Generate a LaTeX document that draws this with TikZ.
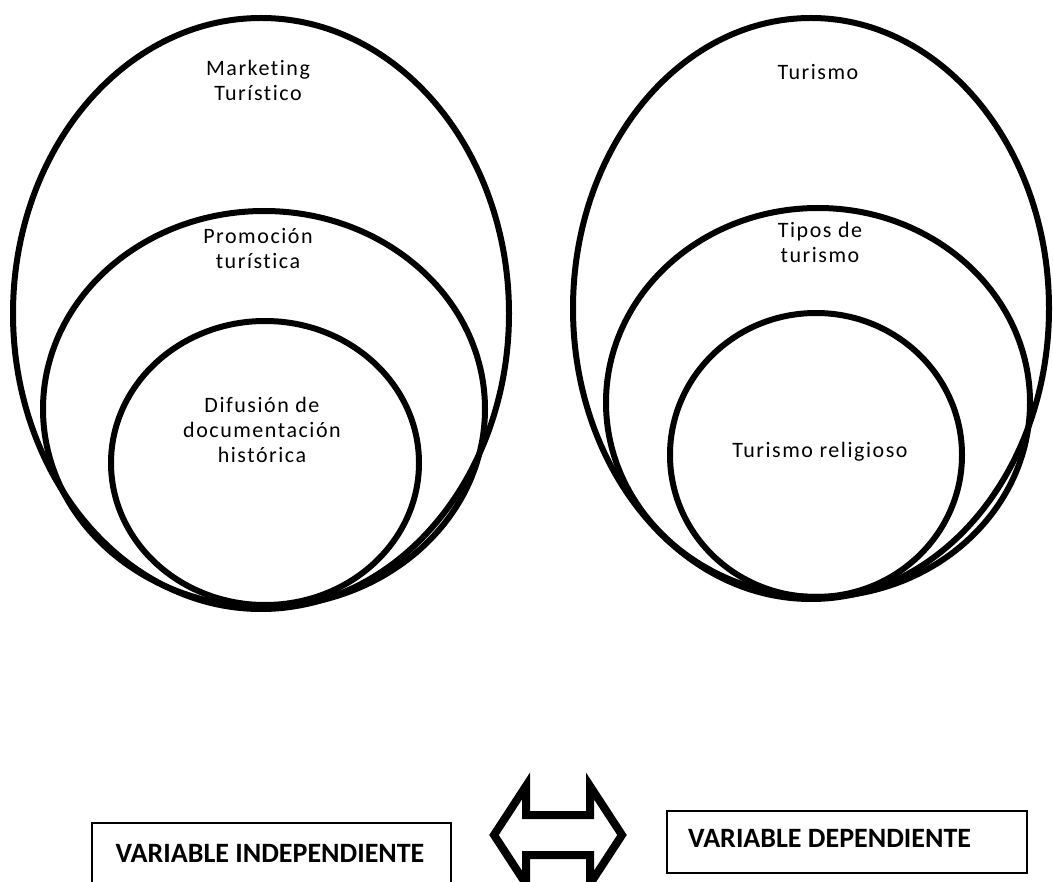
\documentclass[tikz,border=0pt]{standalone}
\usepackage{fontspec}
\setmainfont{Carlito}[Ligatures=NoCommon]

\begin{document}
\begin{tikzpicture}[x=1pt,y=1pt]
		\tikzstyle{every node}+=[inner sep=0pt]
		\tikzstyle{ring}=[black, line width=6pt]
		\tikzstyle{label}=[align=center, font=\fontsize{22}{25}\selectfont\addfontfeature{LetterSpace=7}]
		\tikzstyle{vartext}=[font=\fontsize{28}{30}\selectfont\bfseries]
		\useasboundingbox (0,0) rectangle (1053,-882);
		\clip (0,0) rectangle (1053,-882);
		% left side
		\draw [ring] (261,-313.5) ellipse (248pt and 295.5pt);
		\draw [ring] (264,-409) ellipse (221pt and 198pt);
		\draw [ring] (265,-463) ellipse (154pt and 142pt);
		\node [label] (mkt) at (258,-80) {Marketing\\Turístico};
		\node [label] (prom) at (258,-249) {Promoción\\turística};
		\node [label] (dif) at (262,-430) {Difusión de\\documentación\\histórica};
		% right side
		\draw [ring] (811,-308.5) ellipse (238pt and 290.5pt);
		\draw [ring] (818,-402.5) ellipse (212pt and 194.5pt);
		\draw [ring] (816,-455) ellipse (146pt and 142pt);
		\node [label] (tur) at (818,-72) {Turismo};
		\node [label] (tipos) at (820,-242) {Tipos de\\turismo};
		\node [label] (relig) at (820,-452) {Turismo religioso};
		% variables
		\draw [black, line width=1.5pt] (92,-823) rectangle (451,-900);
		\node [vartext] (vind) at (270,-853) {VARIABLE INDEPENDIENTE};
		\draw [black, line width=1.5pt] (667,-811) rectangle (1027,-873);
		\node [vartext, anchor=west] (vdep) at (688,-838) {VARIABLE DEPENDIENTE};
		\draw [black, line width=8pt, line join=miter] (494,-835) -- (526,-786) -- (526,-815) -- (590,-815) -- (590,-786)
			-- (622,-835) -- (590,-884) -- (590,-855) -- (526,-855) -- (526,-884) -- cycle;
	\end{tikzpicture}
\end{document}
